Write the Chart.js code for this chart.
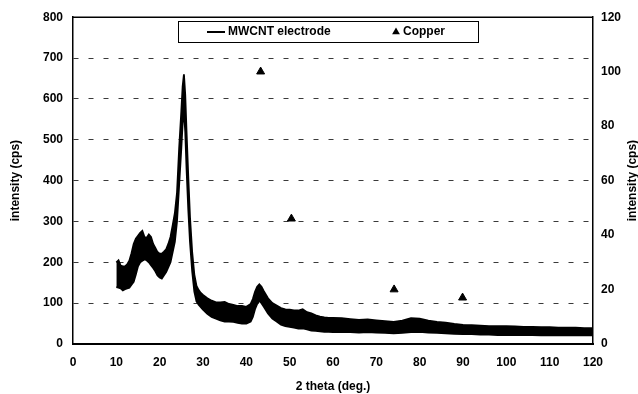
<!DOCTYPE html>
<html>
<head>
<meta charset="utf-8">
<script src="https://cdn.jsdelivr.net/npm/chart.js@4/dist/chart.umd.min.js"></script>
<style>
  html, body { margin: 0; padding: 0; background: #fff; }
  canvas { display: block; }
</style>
</head>
<body>
<canvas id="c" width="638" height="394"></canvas>
<script>
// ---- data ----
const twoTheta = [10,10.5,11,11.5,12,12.5,13,13.5,14,14.5,15,15.5,16,16.5,17,17.5,18,18.5,19,19.5,20,20.5,21,21.5,22,22.5,23,23.5,24,24.5,25,25.3,25.6,25.9,26.2,26.6,27,27.5,28,28.5,29,29.5,30,31,32,33,34,35,36,37,38,39,40,41,41.5,42,42.5,43,43.5,44,45,46,47,48,49,50,51,52,53,54,55,56,57,58,59,60,62,64,66,68,70,72,74,76,78,80,82,84,86,88,90,92,94,96,98,100,102,104,106,108,110,112,114,116,118,120];
// upper and lower edge of the noisy MWCNT trace (cps, left axis)
const mwcntUpper = [200,205,192,190,190,195,204,222,245,258,265,272,277,262,260,268,262,245,235,225,221,221,226,232,245,262,290,320,370,480,570,630,660,610,520,410,310,225,170,142,132,125,120,112,106,102,102,103,98,96,93,93,91,98,110,128,140,146,140,130,112,100,94,88,85,84,82,82,85,78,75,70,67,65,64,64,63,61,59,60,58,56,54,57,63,62,57,54,52,49,47,46,45,44,44,44,43,42,42,41,41,40,40,40,39,39];
const mwcntLower = [139,138,136,131,134,136,138,145,152,170,190,200,204,207,205,200,193,186,178,168,163,160,168,176,188,200,225,250,300,390,480,540,570,520,430,330,250,178,128,104,96,90,84,74,66,62,58,55,55,54,52,50,50,55,66,85,98,106,100,92,75,62,55,47,44,42,40,38,38,36,33,32,31,30,30,29,29,29,28,29,28,27,26,27,29,30,28,27,26,25,24,24,23,23,22,22,22,22,22,21,21,21,21,21,21,21];
// copper reference peaks (cps, right axis)
const copperTheta = [43.3, 50.4, 74.1, 89.9];
const copperIntensity = [100, 46, 20, 17];
// axis settings
const xTicksMin = 0, xTicksMax = 120, xStep = 10;
const yLeftMax = 800, yLeftStep = 100;
const yRightMax = 120, yRightStep = 20;
const labels = {
  mwcnt: 'MWCNT electrode',
  copper: 'Copper',
  xTitle: '2 theta (deg.)',
  yTitle: 'intensity (cps)',
  y2Title: 'intensity (cps)'
};

const FONT = '"Liberation Sans", Arial, Helvetica, sans-serif';

const upperPts = twoTheta.map((t, i) => ({x: t, y: mwcntUpper[i]}));
const lowerPts = twoTheta.map((t, i) => ({x: t, y: mwcntLower[i]}));
const copperPts = copperTheta.map((t, i) => ({x: t, y: copperIntensity[i]}));

const framePlugin = {
  id: 'frame',
  afterDraw(chart) {
    const {ctx, chartArea: a} = chart;
    ctx.save();
    // top border
    ctx.strokeStyle = '#000';
    ctx.lineWidth = 1.5;
    ctx.beginPath();
    ctx.moveTo(a.left, a.top);
    ctx.lineTo(a.right, a.top);
    ctx.stroke();

    // right axis title, reading bottom to top
    ctx.fillStyle = '#000';
    ctx.font = 'bold 12px ' + FONT;
    ctx.textAlign = 'center';
    ctx.textBaseline = 'middle';
    ctx.translate(633, (a.top + a.bottom) / 2);
    ctx.rotate(-Math.PI / 2);
    ctx.fillText(labels.y2Title, 0, 0);
    ctx.restore();

    // legend box
    ctx.save();
    const bx = 178, by = 21, bw = 300, bh = 21;
    ctx.fillStyle = '#fff';
    ctx.fillRect(bx, by, bw, bh);
    ctx.strokeStyle = '#000';
    ctx.lineWidth = 1;
    ctx.strokeRect(bx + 0.5, by + 0.5, bw, bh);
    const cy = by + bh / 2 + 0.5;
    ctx.lineWidth = 2;
    ctx.beginPath();
    ctx.moveTo(207, cy);
    ctx.lineTo(225, cy);
    ctx.stroke();
    ctx.fillStyle = '#000';
    ctx.font = 'bold 12px ' + FONT;
    ctx.textAlign = 'left';
    ctx.textBaseline = 'middle';
    ctx.fillText(chart.data.datasets[0].label, 228, cy);
    // triangle marker
    const tx = 396, r = 4.5;
    ctx.beginPath();
    ctx.moveTo(tx, cy - r);
    ctx.lineTo(tx + r * 0.866, cy + r * 0.5);
    ctx.lineTo(tx - r * 0.866, cy + r * 0.5);
    ctx.closePath();
    ctx.fill();
    ctx.fillText(chart.data.datasets[2].label, 403, cy);
    ctx.restore();
  }
};

new Chart(document.getElementById('c'), {
  type: 'line',
  data: {
    datasets: [
      {
        label: labels.mwcnt,
        data: upperPts,
        yAxisID: 'y',
        borderColor: '#000',
        backgroundColor: '#000',
        borderWidth: 1.8,
        pointRadius: 0,
        fill: '+1',
        tension: 0
      },
      {
        label: labels.mwcnt + ' (lower edge)',
        data: lowerPts,
        yAxisID: 'y',
        borderColor: '#000',
        backgroundColor: '#000',
        borderWidth: 1.8,
        pointRadius: 0,
        fill: false,
        tension: 0
      },
      {
        label: labels.copper,
        data: copperPts,
        yAxisID: 'y2',
        showLine: false,
        pointStyle: 'triangle',
        pointRadius: 4.6,
        pointBackgroundColor: '#000',
        pointBorderColor: '#000',
        borderColor: '#000',
        backgroundColor: '#000'
      }
    ]
  },
  options: {
    responsive: false,
    animation: false,
    layout: { padding: { top: 15, left: 0, right: 0, bottom: 0 } },
    plugins: {
      legend: { display: false },
      tooltip: { enabled: false }
    },
    scales: {
      x: {
        type: 'linear',
        min: xTicksMin,
        max: xTicksMax,
        ticks: {
          stepSize: xStep,
          color: '#000',
          font: { family: FONT, size: 12, weight: 'bold' },
          padding: 11,
          maxRotation: 0
        },
        grid: { display: true, drawOnChartArea: false, drawTicks: false },
        border: { display: true, color: '#000', width: 2 },
        title: {
          display: true,
          text: labels.xTitle,
          color: '#000',
          font: { family: FONT, size: 12, weight: 'bold' },
          padding: { top: 0, bottom: 0 }
        },
        afterFit(s) { s.height = 50; }
      },
      y: {
        position: 'left',
        min: 0,
        max: yLeftMax,
        ticks: {
          stepSize: yLeftStep,
          color: '#000',
          font: { family: FONT, size: 12, weight: 'bold' },
          padding: 10
        },
        grid: {
          drawTicks: false,
          lineWidth: 1,
          color: (c) => (c.tick && (c.tick.value === 0 || c.tick.value === yLeftMax)) ? 'rgba(0,0,0,0)' : '#3a3a3a'
        },
        border: { display: true, color: '#000', width: 1.5, dash: [5, 10] },
        title: {
          display: true,
          text: labels.yTitle,
          color: '#000',
          font: { family: FONT, size: 12, weight: 'bold' },
          padding: { top: 8, bottom: 0 }
        },
        afterFit(s) { s.width = 73; }
      },
      y2: {
        position: 'right',
        min: 0,
        max: yRightMax,
        ticks: {
          stepSize: yRightStep,
          color: '#000',
          font: { family: FONT, size: 12, weight: 'bold' },
          padding: 8
        },
        grid: { drawOnChartArea: false, drawTicks: false },
        border: { display: true, color: '#000', width: 1.5 },
        title: { display: false },
        afterFit(s) { s.width = 45; }
      }
    }
  },
  plugins: [framePlugin]
});
</script>
</body>
</html>
